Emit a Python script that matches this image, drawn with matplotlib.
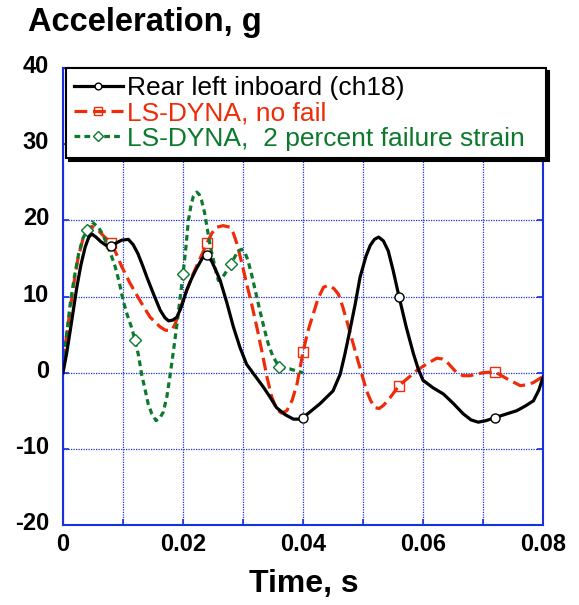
import numpy as np
import matplotlib
matplotlib.use("Agg")
import matplotlib.pyplot as plt
import matplotlib.transforms as mtransforms

plt.rcParams["axes.unicode_minus"] = False

# Rear left inboard (ch18) test data
t_test = [0.0, 0.0006, 0.0012, 0.0018, 0.0023, 0.003, 0.0037, 0.0043, 0.0048, 0.0055,
          0.0063, 0.0072, 0.008, 0.0088, 0.0098, 0.0109, 0.0117, 0.0125, 0.0133, 0.014,
          0.0151, 0.0162, 0.017, 0.0176, 0.0183, 0.019, 0.0198, 0.0206, 0.0214, 0.0222,
          0.0232, 0.024, 0.0248, 0.0255, 0.0262, 0.0273, 0.0284, 0.0295, 0.0306, 0.032,
          0.0334, 0.0345, 0.0356, 0.037, 0.0384, 0.0393, 0.040, 0.0414, 0.0428, 0.045,
          0.0462, 0.047, 0.0478, 0.0487, 0.0495, 0.0505, 0.0512, 0.0519, 0.0526, 0.0534,
          0.0542, 0.055, 0.056, 0.0572, 0.0584, 0.0592, 0.060, 0.0617, 0.0634, 0.065,
          0.0667, 0.068, 0.0692, 0.0705, 0.072, 0.074, 0.0756, 0.077, 0.0784, 0.0793,
          0.08]
a_test = [0.0, 2.5, 5.5, 8.6, 11.2, 14.2, 16.5, 17.8, 18.2, 17.8,
          17.2, 16.7, 16.6, 17.0, 17.4, 17.5, 16.8, 15.6, 14.0, 12.5,
          10.3, 8.2, 7.2, 6.8, 6.9, 7.3, 8.8, 10.8, 12.3, 13.6,
          15.0, 15.5, 14.6, 13.4, 12.1, 9.2, 6.0, 3.3, 1.1, -0.4,
          -1.9, -3.2, -4.6, -5.5, -6.1, -6.1, -5.9, -5.0, -4.1, -2.4,
          -0.2, 2.5, 5.5, 9.0, 12.5, 15.3, 16.7, 17.5, 17.8, 17.3,
          16.0, 13.5, 10.0, 6.0, 2.5, 0.5, -1.0, -2.0, -2.8, -4.0,
          -5.4, -6.2, -6.5, -6.3, -5.9, -5.4, -5.0, -4.4, -3.7, -2.3,
          -0.6]

# LS-DYNA, no fail
t_nofail = [0.0, 0.0008, 0.0017, 0.0025, 0.0034, 0.0041, 0.0048, 0.0056, 0.0067, 0.008,
            0.0089, 0.0098, 0.0112, 0.0128, 0.0145, 0.0162, 0.017, 0.0178, 0.0183, 0.0187,
            0.0193, 0.020, 0.0217, 0.024, 0.0248, 0.0256, 0.0267, 0.0278, 0.0284, 0.029,
            0.0298, 0.0306, 0.0315, 0.0323, 0.0332, 0.034, 0.0348, 0.0356, 0.0364, 0.0373,
            0.0382, 0.039, 0.040, 0.0408, 0.0417, 0.0425, 0.0434, 0.044, 0.0445, 0.0452,
            0.0459, 0.0466, 0.0473, 0.049, 0.0506, 0.0513, 0.052, 0.0527, 0.0534, 0.0545,
            0.056, 0.059, 0.0607, 0.0623, 0.0632, 0.064, 0.0656, 0.0667, 0.0678, 0.070,
            0.072, 0.074, 0.0762, 0.0773, 0.0784, 0.0798, 0.08]
a_nofail = [1.5, 6.0, 11.2, 15.0, 17.8, 18.8, 19.2, 18.9, 18.0, 17.0,
            15.6, 13.9, 11.7, 9.5, 7.3, 6.0, 5.6, 5.5, 5.8, 6.4,
            7.8, 9.5, 13.0, 17.0, 18.3, 19.1, 19.3, 19.1, 18.3, 16.9,
            14.4, 11.7, 8.8, 6.0, 2.6, -0.6, -3.2, -4.8, -5.3, -5.0,
            -3.6, -1.5, 2.7, 5.4, 7.7, 9.7, 11.2, 11.4, 11.4, 11.0,
            10.3, 8.7, 6.8, 2.0, -2.4, -3.7, -4.6, -4.7, -4.3, -3.3,
            -1.7, 0.3, 1.2, 1.9, 1.8, 1.4, 0.0, -0.4, -0.4, 0.0,
            0.1, -0.8, -1.7, -1.6, -1.3, -0.6, -0.5]

# LS-DYNA, 2 percent failure strain
t_fail = [0.0, 0.0006, 0.0012, 0.0019, 0.0026, 0.0033, 0.004, 0.0048, 0.0059, 0.0066,
          0.0073, 0.008, 0.0087, 0.0094, 0.010, 0.0107, 0.0114, 0.012, 0.0126, 0.0131,
          0.0137, 0.0142, 0.0148, 0.0155, 0.0161, 0.0167, 0.0173, 0.0178, 0.0184, 0.019,
          0.0195, 0.020, 0.0205, 0.0209, 0.0213, 0.0217, 0.0223, 0.0227, 0.0231, 0.0236,
          0.024, 0.0245, 0.0251, 0.0255, 0.0259, 0.0264, 0.027, 0.028, 0.0292, 0.0298,
          0.0303, 0.0308, 0.0314, 0.0321, 0.0328, 0.0335, 0.0342, 0.035, 0.036, 0.0368,
          0.0378, 0.039, 0.040]
a_fail = [0.8, 5.0, 9.0, 12.6, 15.6, 17.6, 18.7, 19.8, 19.1, 18.2,
          16.9, 15.5, 13.9, 11.8, 9.5, 7.6, 6.0, 4.3, 2.2, -0.2,
          -2.3, -4.1, -5.4, -6.3, -6.0, -5.2, -3.2, -0.6, 2.8, 6.4,
          9.7, 12.9, 16.6, 20.0, 21.8, 23.1, 23.7, 23.4, 22.6, 21.0,
          19.1, 16.8, 14.7, 13.2, 12.1, 12.3, 13.0, 14.3, 16.0, 16.2,
          15.8, 14.8, 13.0, 10.6, 8.2, 5.9, 3.8, 2.1, 0.8, 0.6,
          0.5, 0.2, 0.0]

marks_test = [0.008, 0.024, 0.040, 0.056, 0.072]
marks_nofail = [0.008, 0.024, 0.040, 0.056, 0.072]
marks_fail = [0.004, 0.012, 0.020, 0.028, 0.036]

labels = ["Rear left inboard (ch18)", "LS-DYNA, no fail",
          "LS-DYNA,  2 percent failure strain"]
xticks = [0, 0.02, 0.04, 0.06, 0.08]
xtick_labels = ["0", "0.02", "0.04", "0.06", "0.08"]
yticks = [-20, -10, 0, 10, 20, 30, 40]
ytick_labels = ["-20", "-10", "0", "10", "20", "30", "40"]

BLUE = "#1a2fe0"
RED = "#ee2c0a"
GREEN = "#0c7a2c"
TICKFONT = dict(fontsize=17, fontweight="bold", family="Liberation Sans")


def mark_idx(t, marks):
    t = np.round(np.asarray(t), 4)
    return [int(np.where(t == m)[0][0]) for m in marks]


fig = plt.figure(figsize=(5.79, 6.05), dpi=100)
ax = fig.add_axes([63 / 579, 1 - 525 / 605, 480 / 579, 457 / 605])

ax.plot(t_test, a_test, color="black", lw=2.3, marker="o", ms=6.5, mfc="white",
        mec="black", mew=1.0, markevery=mark_idx(t_test, marks_test), label=labels[0], zorder=3)
ax.plot(t_nofail, a_nofail, color=RED, lw=2.3, ls=(0, (4, 1.8)), marker="s", ms=7.5,
        mfc="none", mec=RED, mew=1.0, markevery=mark_idx(t_nofail, marks_nofail),
        label=labels[1], zorder=2)
ax.plot(t_fail, a_fail, color=GREEN, lw=2.3, ls=(0, (1.8, 1.3)), marker="D", ms=6.5,
        mfc="white", mec=GREEN, mew=1.0, markevery=mark_idx(t_fail, marks_fail),
        label=labels[2], zorder=2)

ax.set_xlim(0, 0.08)
ax.set_ylim(-20, 40)
ax.tick_params(which="both", direction="in", color=BLUE, length=4, width=1.2,
               right=True, top=False)
ax.tick_params(axis="y", pad=10)
ax.tick_params(axis="x", pad=6)
ax.set_xticks(xticks, labels=xtick_labels, **TICKFONT)
ax.set_xticks(np.arange(0, 0.081, 0.01), minor=True)
ax.set_yticks(yticks, labels=ytick_labels, **TICKFONT)
ax.grid(True, which="both", color=BLUE, ls=(0, (1, 1)), lw=0.9)
for sp in ax.spines.values():
    sp.set_color(BLUE)
    sp.set_linewidth(1.5)

# labels sit a little above their tick in the original
shift = mtransforms.ScaledTranslation(0, 4 / 100, fig.dpi_scale_trans)
for lab in ax.get_yticklabels():
    lab.set_transform(lab.get_transform() + shift)

fig.text(28 / 579, 1 - 22 / 605, "Acceleration, g", fontsize=23.5, va="center",
         ha="left", fontweight="bold", family="Liberation Sans")
fig.text(304 / 579, 1 - 584 / 605, "Time, s", fontsize=23, va="center",
         ha="center", fontweight="bold", family="Liberation Sans")

leg = ax.legend(loc="upper left", bbox_to_anchor=(3 / 480, 0, 480 / 480, 1.0),
                borderaxespad=0, mode="expand", handlelength=1.85,
                handletextpad=0.17, labelspacing=0.05, borderpad=0.3,
                fancybox=False, shadow={"color": "black", "alpha": 1.0},
                prop={"family": "Liberation Sans", "size": 19}, markerscale=0.75)
leg.get_frame().set_edgecolor("black")
leg.get_frame().set_linewidth(1.5)
for txt, col in zip(leg.get_texts(), ["black", RED, GREEN]):
    txt.set_color(col)

fig.savefig("out.png", dpi=100)
